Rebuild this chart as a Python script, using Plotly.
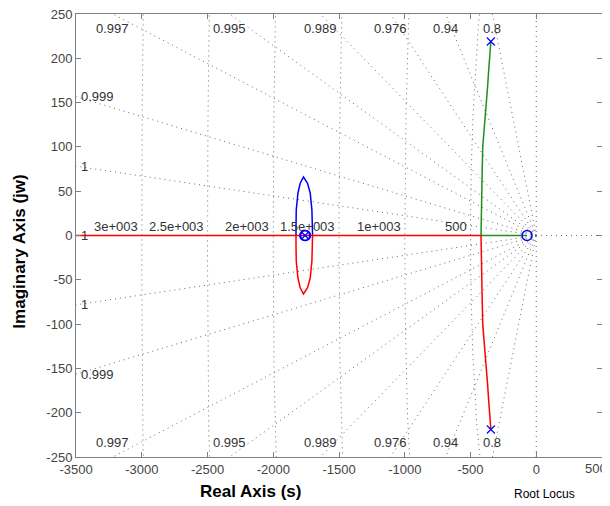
import numpy as np
import plotly.graph_objects as go

# ---------------- data ----------------
x_ticks = [-3500, -3000, -2500, -2000, -1500, -1000, -500, 0, 500]
x_ticklabels = ["-3500", "-3000", "-2500", "-2000", "-1500", "-1000", "-500", "0", "500"]
y_ticks = [-250, -200, -150, -100, -50, 0, 50, 100, 150, 200, 250]
y_ticklabels = ["-250", "-200", "-150", "-100", "-50", "0", "50", "100", "150", "200", "250"]

# damping-ratio grid rays and their labels
zeta_vals = [0.8, 0.94, 0.9755, 0.9886, 0.9943, 0.997, 0.999, 0.99975]
zeta_labels = ["0.8", "0.94", "0.976", "0.989", "0.995", "0.997", "0.999", "1"]
# natural-frequency grid semicircles and labels
wn_vals = [500, 1000, 1500, 2000, 2500, 3000]
wn_labels = ["500", "1e+003", "1.5e+003", "2e+003", "2.5e+003", "3e+003"]

# complex branch (upper half; lower half is its mirror)
branch_x = [-345, -350, -360, -370, -383, -398, -407, -412, -416, -419, -420]
branch_y = [219, 212, 190, 168, 145, 122, 100, 65, 30, 10, 0]
zero_right = -70          # zero near origin
real_left_end = -3500     # branch to -infinity
# small loop around the pole/zero pair near -1760
loop_x = [-1701, -1701, -1706, -1719, -1739, -1770, -1795, -1812, -1825, -1827, -1827]
loop_y = [0, 10, 29, 48, 59, 66, 59, 48, 29, 10, 0]
poles_x = [-345, -345, -1758]
poles_y = [219, -219, 0]
zeros_x = [-1760, -1755, -70]
zeros_y = [0, 0, 0]

XR = [-3500, 500]
YR = [-250, 250]

grid_col = "#6a6a6a"
grid_dash = "1px,4px"
FONT = "Liberation Sans, Arial, sans-serif"

fig = go.Figure()

def gline(x, y):
    fig.add_trace(go.Scatter(x=x, y=y, mode="lines", hoverinfo="skip",
                             line=dict(color=grid_col, width=1, dash=grid_dash),
                             showlegend=False))

# real and imaginary axes (zeta = 1 and zeta = 0)
gline([XR[0], XR[1]], [0, 0])
gline([0, 0], [YR[0], YR[1]])

# damping rays
R = 6000
for z in zeta_vals:
    t = np.sqrt(1 - z * z) / z
    ang = np.arctan(t)
    gline([0, -R * np.cos(ang)], [0, R * np.sin(ang)])
    gline([0, -R * np.cos(ang)], [0, -R * np.sin(ang)])

# wn semicircles
th = np.linspace(np.pi / 2, 3 * np.pi / 2, 2001)
for w in wn_vals:
    gline(w * np.cos(th), w * np.sin(th))

# loci
bx = list(branch_x)
by = list(branch_y)
fig.add_trace(go.Scatter(x=loop_x, y=loop_y, mode="lines", line=dict(color="#0000ff", width=1.5),
                         showlegend=False, hoverinfo="skip"))
fig.add_trace(go.Scatter(x=bx + [zero_right], y=by + [0], mode="lines",
                         line=dict(color="#1f8f1f", width=1.5), showlegend=False, hoverinfo="skip"))
fig.add_trace(go.Scatter(x=loop_x, y=[-v for v in loop_y], mode="lines", line=dict(color="#ff0000", width=1.5),
                         showlegend=False, hoverinfo="skip"))
fig.add_trace(go.Scatter(x=bx + [real_left_end], y=[-v for v in by] + [0], mode="lines",
                         line=dict(color="#ff0000", width=1.5), showlegend=False, hoverinfo="skip"))

# poles and zeros
fig.add_trace(go.Scatter(x=zeros_x, y=zeros_y, mode="markers",
                         marker=dict(symbol="circle-open", size=10, color="#0000ff",
                                     line=dict(color="#0000ff", width=1.5)),
                         showlegend=False, hoverinfo="skip"))
fig.add_trace(go.Scatter(x=poles_x, y=poles_y, mode="markers",
                         marker=dict(symbol="x-thin-open", size=8, color="#0000ff",
                                     line=dict(color="#0000ff", width=1.2)),
                         showlegend=False, hoverinfo="skip"))

ann = []
lab_font = dict(family=FONT, size=13, color="#333333")
# zeta labels
for z, lab in zip(zeta_vals, zeta_labels):
    t = np.sqrt(1 - z * z) / z
    xe = -250 / t
    if xe > -3400:
        for s in (1, -1):
            ann.append(dict(x=xe, y=s * 234, text=lab, showarrow=False, xanchor="center",
                            yanchor="middle", font=lab_font))
    else:
        ye = 3500 * t
        for s in (1, -1):
            ann.append(dict(x=-3480, y=s * ye, text=lab, showarrow=False, xanchor="left",
                            yanchor="middle", font=lab_font))
# zeta = 1 on the real axis
ann.append(dict(x=-3480, y=0, text="1", showarrow=False, xanchor="left", yanchor="middle", font=lab_font))
# wn labels
for w, lab in zip(wn_vals, wn_labels):
    ann.append(dict(x=-w - 15, y=0, text=lab, showarrow=False, xanchor="right", yanchor="bottom",
                    font=lab_font))

tick_font = dict(family=FONT, size=13, color="#444444")
# last x tick label, nudged left so it stays inside the page
shown_xtext = x_ticklabels[:-1] + [""]
ann.append(dict(x=x_ticks[-1], yref="paper", y=-0.027, text=x_ticklabels[-1], showarrow=False,
                xanchor="right", yanchor="middle", xshift=7, font=tick_font))

# titles
ann.append(dict(xref="paper", yref="paper", x=0.331, y=-0.079, text="<b>Real Axis (s)</b>",
                showarrow=False, xanchor="center", yanchor="middle",
                font=dict(family=FONT, size=17, color="#000000")))
ann.append(dict(xref="paper", yref="paper", x=-0.108, y=0.464, text="<b>Imaginary Axis (jw)</b>",
                showarrow=False, xanchor="center", yanchor="middle", textangle=-90,
                font=dict(family=FONT, size=17, color="#000000")))
ann.append(dict(xref="paper", yref="paper", x=0.890, y=-0.0835, text="Root Locus",
                showarrow=False, xanchor="center", yanchor="middle",
                font=dict(family=FONT, size=12, color="#000000")))

axis_common = dict(showgrid=False, zeroline=False, showline=True, mirror="ticks",
                   linecolor="#808080", linewidth=1, ticks="inside", ticklen=5,
                   tickcolor="#808080", ticklabeloverflow="allow", automargin=False,
                   tickfont=tick_font)

# the page body adds an 8px margin, so the figure is sized to fit inside it
fig.update_layout(
    width=602, height=498,
    margin=dict(l=68, r=8, t=6, b=49, autoexpand=False),
    paper_bgcolor="white", plot_bgcolor="white",
    xaxis=dict(range=XR, tickvals=x_ticks, ticktext=shown_xtext, **axis_common),
    yaxis=dict(range=YR, tickvals=y_ticks, ticktext=y_ticklabels, **axis_common),
    annotations=ann,
    showlegend=False,
)

fig.write_html("out.html")
